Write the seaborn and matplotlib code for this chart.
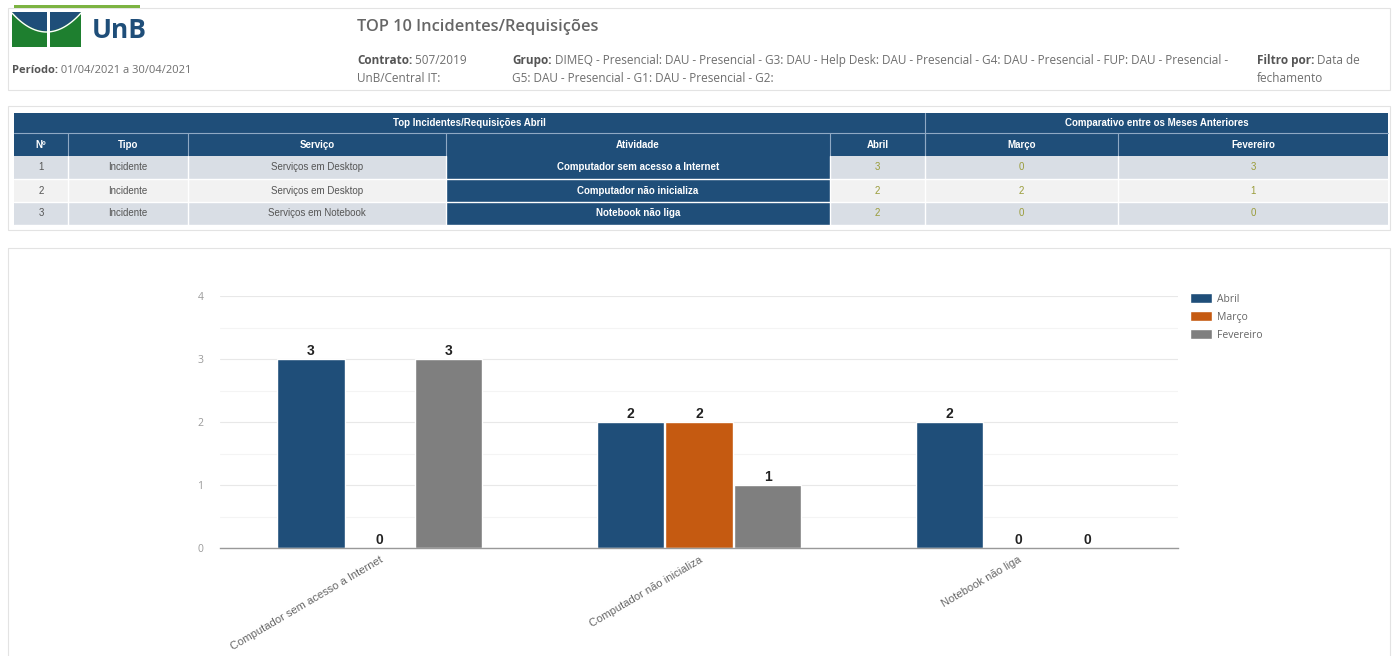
import numpy as np
import pandas as pd
import matplotlib
matplotlib.use("Agg")
import matplotlib.pyplot as plt
from matplotlib.patches import Rectangle, Polygon
import seaborn as sns

# ---- data ----
numeros = ["1", "2", "3"]
tipos = ["Incidente", "Incidente", "Incidente"]
servicos = ["Serviços em Desktop", "Serviços em Desktop", "Serviços em Notebook"]
atividades = ["Computador sem acesso a Internet", "Computador não inicializa", "Notebook não liga"]
meses = ["Abril", "Março", "Fevereiro"]
abril = [3, 2, 2]
marco = [0, 2, 0]
fevereiro = [3, 1, 0]
yticks = [0, 1, 2, 3, 4]

NAVY = "#1f4e79"
ORANGE = "#c55a11"
GREY = "#7f7f7f"
TXT = "#555555"
TXT2 = "#6e6e6e"
VAL = "#9a9c3a"

sns.set_theme(style="white")
plt.rcParams["font.family"] = ["Open Sans", "DejaVu Sans"]

W, H = 1395, 656
fig = plt.figure(figsize=(W / 100, H / 100), dpi=100)
fig.patch.set_facecolor("white")

# full-figure canvas in pixel coordinates for the dashboard frame
bg = fig.add_axes([0, 0, 1, 1])
bg.set_xlim(0, W)
bg.set_ylim(H, 0)
bg.axis("off")


def box(x0, y0, x1, y1, fc="none", ec="none", lw=1.0, z=1):
    bg.add_patch(Rectangle((x0, y0), x1 - x0, y1 - y0, facecolor=fc, edgecolor=ec, lw=lw, zorder=z))


def pair(x, y, bold, regular, size=8.5):
    t = bg.text(x, y, bold, fontsize=size, fontweight="bold", color=TXT, va="bottom", ha="left")
    bg.annotate(regular, xy=(1, 0), xycoords=t, fontsize=size, color=TXT2,
                va="bottom", ha="left", xytext=(0, 0), textcoords="offset points")


# ---- header panel ----
box(8, 8, 1390, 90, ec="#e3e3e3", lw=0.8)
box(14, 5, 140, 8, fc="#7cb342", z=2)

# UnB logo
box(12, 12, 47, 47, fc="#1e7f2f", z=2)
box(50, 12, 81, 47, fc="#1e7f2f", z=2)
xs = np.linspace(12, 81, 60)
curve = 12 + 19 * (1 - ((xs - 46.5) / 34.5) ** 2)
bg.add_patch(Polygon(np.column_stack([np.r_[xs, 81, 12], np.r_[curve, 12, 12]]),
                     closed=True, facecolor=NAVY, edgecolor="none", zorder=3))
bg.plot(xs, curve + 1, color="white", lw=1.0, zorder=4)
box(47, 12, 50, 47, fc="white", z=5)
bg.text(92, 31, "UnB", fontsize=19, fontweight="bold", color=NAVY, va="center", ha="left")

pair(12, 76, "Período:", " 01/04/2021 a 30/04/2021", size=8)
bg.text(357, 27, "TOP 10 Incidentes/Requisições", fontsize=11.8, fontweight="semibold",
        color="#666666", va="center", ha="left")
pair(357, 67, "Contrato:", " 507/2019", size=8.5)
bg.text(357, 85, "UnB/Central IT:", fontsize=8.5, color=TXT2, va="bottom", ha="left")
pair(512, 67, "Grupo:", " DIMEQ - Presencial: DAU - Presencial - G3: DAU - Help Desk: DAU - Presencial - G4: DAU - Presencial - FUP: DAU - Presencial -", size=8.5)
bg.text(512, 85, "G5: DAU - Presencial - G1: DAU - Presencial - G2:", fontsize=8.5, color=TXT2, va="bottom", ha="left")
pair(1257, 67, "Filtro por:", " Data de", size=8.5)
bg.text(1257, 85, "fechamento", fontsize=8.5, color=TXT2, va="bottom", ha="left")

# ---- table panel ----
box(8, 106, 1390, 230, ec="#e3e3e3", lw=0.8)
tfont = ["Liberation Sans Narrow", "Liberation Sans", "DejaVu Sans"]
cols = [14, 68, 188, 446, 830, 925, 1118, 1388]
r0, r1, r2 = 113, 133, 156
rh = 23

box(14, r0, 1388, r2, fc=NAVY, z=2)
bg.plot([925, 925], [r0, r2], color="#8fa9c4", lw=0.8, zorder=3)
bg.plot([14, 1388], [r1, r1], color="#8fa9c4", lw=0.8, zorder=3)
for c in cols[1:-1]:
    bg.plot([c, c], [r1, r2], color="#8fa9c4", lw=0.8, zorder=3)
bg.text((14 + 925) / 2, (r0 + r1) / 2, "Top Incidentes/Requisições Abril", fontsize=7, fontweight="bold",
        color="white", ha="center", va="center", family=tfont, zorder=4)
bg.text((925 + 1388) / 2, (r0 + r1) / 2, "Comparativo entre os Meses Anteriores", fontsize=7,
        fontweight="bold", color="white", ha="center", va="center", family=tfont, zorder=4)
heads = ["Nº", "Tipo", "Serviço", "Atividade", "Abril", "Março", "Fevereiro"]
for i, h in enumerate(heads):
    bg.text((cols[i] + cols[i + 1]) / 2, (r1 + r2) / 2, h, fontsize=7, fontweight="bold",
            color="white", ha="center", va="center", family=tfont, zorder=4)

row_fc = ["#d9dee5", "#f2f2f2", "#d9dee5"]
for r in range(len(atividades)):
    y0 = r2 + r * rh
    y1 = y0 + rh
    box(14, y0, 1388, y1, fc=row_fc[r], z=2)
    box(446, y0, 830, y1, fc=NAVY, z=2)
    for c in cols[1:-1]:
        bg.plot([c, c], [y0, y1], color="white", lw=1.0, zorder=3)
    bg.plot([14, 1388], [y1, y1], color="white", lw=1.0, zorder=3)
    cells = [numeros[r], tipos[r], servicos[r], atividades[r],
             str(abril[r]), str(marco[r]), str(fevereiro[r])]
    for i, val in enumerate(cells):
        col = TXT
        wt = "normal"
        if i == 3:
            col, wt = "white", "bold"
        elif i >= 4:
            col = VAL
        bg.text((cols[i] + cols[i + 1]) / 2, (y0 + y1) / 2, val, fontsize=7, fontweight=wt,
                color=col, ha="center", va="center", family=tfont, zorder=4)

# ---- chart panel ----
box(8, 248, 1390, 660, ec="#e3e3e3", lw=0.8)

df = pd.DataFrame({
    "Atividade": atividades * 3,
    "Mês": [meses[0]] * 3 + [meses[1]] * 3 + [meses[2]] * 3,
    "Quantidade": abril + marco + fevereiro,
})

ax_l, ax_r, ax_t, ax_b = 220, 1178, 296, 548
ax = fig.add_axes([ax_l / W, 1 - ax_b / H, (ax_r - ax_l) / W, (ax_b - ax_t) / H])
ax.patch.set_alpha(0)
sns.barplot(data=df, x="Atividade", y="Quantidade", hue="Mês", order=atividades,
            hue_order=meses, palette=[NAVY, ORANGE, GREY], width=0.645, gap=0.02,
            errorbar=None, saturation=1, legend=False, ax=ax)
ax.set_xlim(-0.5, 2.5)
ax.set_ylim(0, 4)
ax.set_yticks(yticks)
ax.set_yticks(np.arange(0.5, 4, 1), minor=True)
ax.grid(axis="y", which="major", color="#e8e8e8", lw=0.8)
ax.grid(axis="y", which="minor", color="#f4f4f4", lw=0.8)
ax.set_axisbelow(True)
for s in ["top", "right", "left"]:
    ax.spines[s].set_visible(False)
ax.spines["bottom"].set_color("#999999")
ax.spines["bottom"].set_linewidth(1.0)
ax.tick_params(axis="both", length=0)
ax.tick_params(axis="y", labelsize=7.5, labelcolor="#9a9a9a", pad=12)
ax.set_xticks(range(len(atividades)))
ax.set_xticklabels(atividades, rotation=30.5, ha="right", rotation_mode="anchor",
                   fontsize=8, color="#666666", family=["Liberation Sans", "DejaVu Sans"])
ax.tick_params(axis="x", pad=5)
ax.set_xlabel("")
ax.set_ylabel("")
for cont in ax.containers:
    ax.bar_label(cont, fmt="%d", fontsize=10, fontweight="bold", color="#222222",
                 padding=1, family=["Liberation Sans", "DejaVu Sans"])

handles = [Rectangle((0, 0), 1, 1, facecolor=c) for c in [NAVY, ORANGE, GREY]]
fig.legend(handles, meses, loc="upper left", bbox_to_anchor=(1190 / W, 1 - 293 / H),
           frameon=False, fontsize=7.5, handlelength=2.1, handleheight=1.1,
           labelspacing=0.62, handletextpad=0.5, labelcolor="#666666",
           borderpad=0, borderaxespad=0)

fig.savefig("out.png", dpi=100, facecolor="white")
